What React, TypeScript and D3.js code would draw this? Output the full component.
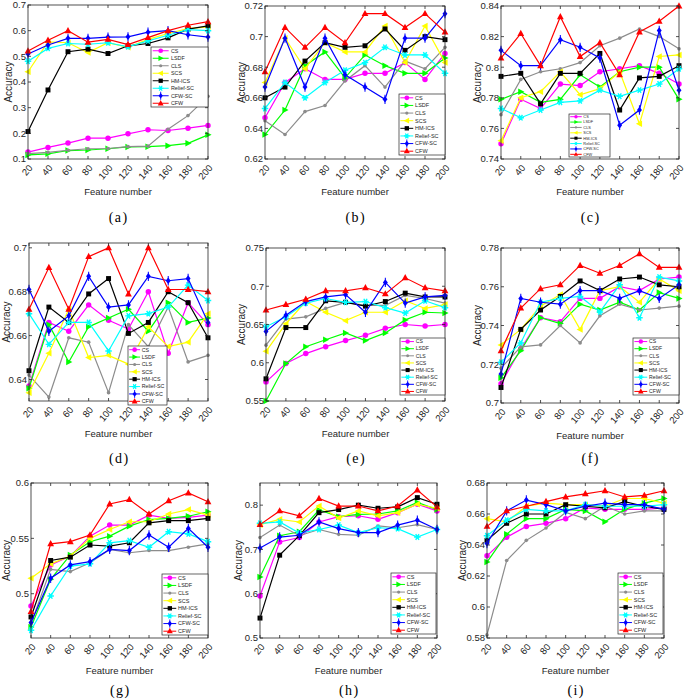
import React from 'react';
import * as d3 from 'd3';

const featureNumbers = [20, 40, 60, 80, 100, 120, 140, 160, 180, 200];
const methods = ['CS', 'LSDF', 'CLS', 'SCS', 'HM-ICS', 'Relief-SC', 'CFW-SC', 'CFW'];
const methodColors = ['#ff00ff', '#00ff00', '#8c8c8c', '#ffff00', '#000000', '#00ffff', '#0000ff', '#ff0000'];

// series order: CS, LSDF, CLS, SCS, HM-ICS, Relief-SC, CFW-SC, CFW
const dataA = [
  [0.127, 0.145, 0.162, 0.181, 0.181, 0.198, 0.214, 0.211, 0.220, 0.231],
  [0.116, 0.120, 0.133, 0.135, 0.140, 0.147, 0.148, 0.152, 0.161, 0.194],
  [0.121, 0.126, 0.134, 0.140, 0.141, 0.148, 0.150, 0.216, 0.269, 0.344],
  [0.440, 0.556, 0.553, 0.515, 0.553, 0.535, 0.566, 0.589, 0.608, 0.615],
  [0.207, 0.369, 0.518, 0.528, 0.511, 0.541, 0.550, 0.572, 0.606, 0.619],
  [0.481, 0.531, 0.550, 0.547, 0.553, 0.537, 0.560, 0.582, 0.604, 0.600],
  [0.509, 0.544, 0.570, 0.570, 0.575, 0.576, 0.594, 0.600, 0.584, 0.575],
  [0.521, 0.563, 0.600, 0.555, 0.566, 0.546, 0.573, 0.600, 0.621, 0.635],
];
const dataB = [
  [0.647, 0.670, 0.679, 0.672, 0.672, 0.676, 0.676, 0.683, 0.672, 0.689],
  [0.636, 0.652, 0.681, 0.690, 0.673, 0.688, 0.681, 0.676, 0.676, 0.686],
  [0.645, 0.636, 0.651, 0.655, 0.671, 0.681, 0.667, 0.684, 0.679, 0.693],
  [0.670, 0.699, 0.679, 0.696, 0.690, 0.690, 0.707, 0.683, 0.707, 0.683],
  [0.660, 0.667, 0.684, 0.696, 0.693, 0.694, 0.705, 0.691, 0.700, 0.698],
  [0.653, 0.670, 0.660, 0.670, 0.678, 0.683, 0.693, 0.688, 0.688, 0.676],
  [0.667, 0.699, 0.667, 0.699, 0.675, 0.667, 0.659, 0.699, 0.699, 0.715],
  [0.677, 0.706, 0.693, 0.706, 0.696, 0.715, 0.715, 0.706, 0.715, 0.703],
];
const dataC = [
  [0.750, 0.779, 0.773, 0.789, 0.788, 0.797, 0.799, 0.801, 0.796, 0.789],
  [0.779, 0.784, 0.777, 0.779, 0.795, 0.787, 0.797, 0.800, 0.800, 0.779],
  [0.769, 0.792, 0.797, 0.799, 0.803, 0.814, 0.819, 0.825, 0.820, 0.812],
  [0.752, 0.780, 0.784, 0.797, 0.782, 0.786, 0.797, 0.763, 0.807, 0.808],
  [0.794, 0.796, 0.776, 0.796, 0.796, 0.809, 0.772, 0.793, 0.794, 0.801],
  [0.773, 0.767, 0.772, 0.777, 0.778, 0.785, 0.781, 0.785, 0.789, 0.799],
  [0.811, 0.801, 0.801, 0.818, 0.813, 0.806, 0.762, 0.772, 0.824, 0.785],
  [0.806, 0.822, 0.801, 0.833, 0.807, 0.816, 0.795, 0.823, 0.830, 0.840],
];
const dataD = [
  [0.637, 0.666, 0.662, 0.674, 0.667, 0.663, 0.680, 0.652, 0.675, 0.665],
  [0.636, 0.665, 0.648, 0.664, 0.668, 0.672, 0.662, 0.675, 0.666, 0.668],
  [0.642, 0.632, 0.659, 0.657, 0.634, 0.665, 0.655, 0.673, 0.648, 0.651],
  [0.634, 0.652, 0.672, 0.650, 0.651, 0.647, 0.664, 0.655, 0.657, 0.670],
  [0.644, 0.673, 0.666, 0.679, 0.686, 0.661, 0.666, 0.680, 0.675, 0.659],
  [0.670, 0.656, 0.666, 0.666, 0.653, 0.669, 0.670, 0.673, 0.683, 0.676],
  [0.681, 0.662, 0.669, 0.687, 0.673, 0.674, 0.687, 0.685, 0.686, 0.666],
  [0.672, 0.691, 0.672, 0.696, 0.700, 0.679, 0.700, 0.681, 0.681, 0.680],
];
const dataE = [
  [0.575, 0.599, 0.612, 0.621, 0.629, 0.636, 0.645, 0.650, 0.648, 0.650],
  [0.550, 0.599, 0.621, 0.630, 0.639, 0.629, 0.639, 0.656, 0.666, 0.665],
  [0.623, 0.657, 0.660, 0.671, 0.679, 0.675, 0.675, 0.688, 0.684, 0.678],
  [0.615, 0.651, 0.680, 0.666, 0.655, 0.666, 0.666, 0.681, 0.671, 0.676],
  [0.579, 0.646, 0.646, 0.681, 0.679, 0.674, 0.680, 0.691, 0.686, 0.686],
  [0.647, 0.660, 0.678, 0.684, 0.679, 0.680, 0.672, 0.665, 0.681, 0.672],
  [0.641, 0.662, 0.680, 0.686, 0.689, 0.666, 0.705, 0.678, 0.686, 0.688],
  [0.669, 0.676, 0.683, 0.694, 0.694, 0.698, 0.690, 0.711, 0.698, 0.694],
];
const dataF = [
  [0.710, 0.728, 0.744, 0.742, 0.754, 0.754, 0.760, 0.758, 0.764, 0.765],
  [0.713, 0.727, 0.744, 0.741, 0.751, 0.748, 0.752, 0.748, 0.757, 0.754],
  [0.718, 0.729, 0.730, 0.740, 0.731, 0.745, 0.751, 0.748, 0.749, 0.750],
  [0.730, 0.738, 0.750, 0.756, 0.738, 0.758, 0.760, 0.752, 0.764, 0.758],
  [0.708, 0.738, 0.748, 0.755, 0.763, 0.758, 0.764, 0.765, 0.761, 0.760],
  [0.721, 0.731, 0.752, 0.754, 0.755, 0.747, 0.761, 0.744, 0.765, 0.763],
  [0.715, 0.754, 0.752, 0.751, 0.758, 0.758, 0.754, 0.758, 0.754, 0.761],
  [0.727, 0.749, 0.759, 0.761, 0.771, 0.767, 0.771, 0.777, 0.770, 0.770],
];
const dataG = [
  [0.489, 0.526, 0.534, 0.552, 0.562, 0.562, 0.571, 0.568, 0.569, 0.571],
  [0.470, 0.513, 0.535, 0.547, 0.552, 0.561, 0.567, 0.568, 0.570, 0.574],
  [0.473, 0.522, 0.520, 0.528, 0.540, 0.537, 0.539, 0.539, 0.542, 0.545],
  [0.514, 0.527, 0.534, 0.550, 0.558, 0.565, 0.565, 0.572, 0.576, 0.571],
  [0.479, 0.530, 0.533, 0.544, 0.543, 0.546, 0.564, 0.566, 0.566, 0.568],
  [0.467, 0.498, 0.525, 0.527, 0.546, 0.548, 0.542, 0.556, 0.554, 0.547],
  [0.474, 0.514, 0.526, 0.529, 0.540, 0.539, 0.553, 0.542, 0.559, 0.542],
  [0.484, 0.545, 0.547, 0.553, 0.581, 0.585, 0.572, 0.584, 0.591, 0.583],
];
const dataH = [
  [0.595, 0.717, 0.727, 0.762, 0.774, 0.776, 0.768, 0.783, 0.802, 0.787],
  [0.638, 0.731, 0.740, 0.789, 0.774, 0.779, 0.780, 0.787, 0.806, 0.790],
  [0.727, 0.755, 0.731, 0.745, 0.734, 0.732, 0.753, 0.749, 0.756, 0.745],
  [0.756, 0.768, 0.762, 0.798, 0.771, 0.787, 0.776, 0.783, 0.802, 0.793],
  [0.545, 0.687, 0.731, 0.783, 0.790, 0.800, 0.793, 0.796, 0.817, 0.802],
  [0.759, 0.762, 0.737, 0.745, 0.755, 0.738, 0.749, 0.747, 0.728, 0.745],
  [0.703, 0.728, 0.732, 0.762, 0.747, 0.738, 0.738, 0.755, 0.766, 0.745],
  [0.756, 0.787, 0.776, 0.815, 0.798, 0.798, 0.787, 0.798, 0.834, 0.796],
];
const dataI = [
  [0.633, 0.645, 0.652, 0.654, 0.657, 0.664, 0.663, 0.663, 0.663, 0.664],
  [0.629, 0.647, 0.657, 0.657, 0.663, 0.662, 0.655, 0.663, 0.667, 0.670],
  [0.582, 0.630, 0.643, 0.651, 0.661, 0.657, 0.665, 0.660, 0.662, 0.662],
  [0.657, 0.655, 0.665, 0.667, 0.666, 0.666, 0.665, 0.670, 0.670, 0.667],
  [0.643, 0.654, 0.660, 0.660, 0.666, 0.665, 0.664, 0.668, 0.665, 0.663],
  [0.646, 0.656, 0.663, 0.662, 0.662, 0.666, 0.665, 0.665, 0.665, 0.666],
  [0.641, 0.662, 0.669, 0.666, 0.662, 0.665, 0.667, 0.666, 0.666, 0.663],
  [0.652, 0.662, 0.665, 0.668, 0.671, 0.673, 0.675, 0.671, 0.672, 0.675],
];

const yTicksA = [0.1, 0.2, 0.3, 0.4, 0.5, 0.6, 0.7];
const yTicksB = [0.62, 0.64, 0.66, 0.68, 0.7, 0.72];
const yTicksC = [0.74, 0.76, 0.78, 0.8, 0.82, 0.84];
const yTicksD = [0.64, 0.66, 0.68, 0.7];
const yTicksE = [0.55, 0.6, 0.65, 0.7, 0.75];
const yTicksF = [0.7, 0.72, 0.74, 0.76, 0.78];
const yTicksG = [0.5, 0.55, 0.6];
const yTicksH = [0.5, 0.6, 0.7, 0.8];
const yTicksI = [0.58, 0.6, 0.62, 0.64, 0.66, 0.68];

const captions = ['(a)', '(b)', '(c)', '(d)', '(e)', '(f)', '(g)', '(h)', '(i)'];

const panels = [
  { data: dataA, yDomain: [0.1, 0.7], yTicks: yTicksA, box: [28, 208, 5, 159], legend: [151, 47, 57, 60], ylOff: 20, capOff: 58 },
  { data: dataB, yDomain: [0.62, 0.72], yTicks: yTicksB, box: [265, 445, 6, 159], legend: [399, 94, 46, 61], ylOff: 24, capOff: 58 },
  { data: dataC, yDomain: [0.74, 0.84], yTicks: yTicksC, box: [501, 679, 6, 159], legend: [569, 114, 41, 43], ylOff: 24, capOff: 58 },
  { data: dataD, yDomain: [0.6302, 0.7022], yTicks: yTicksD, box: [29, 208, 243, 401], legend: [128, 346, 39, 59], ylOff: 23, capOff: 57 },
  { data: dataE, yDomain: [0.55, 0.75], yTicks: yTicksE, box: [266, 445, 248, 401], legend: [400, 338, 45, 57], ylOff: 25, capOff: 57 },
  { data: dataF, yDomain: [0.7, 0.78], yTicks: yTicksF, box: [501, 679, 248, 403], legend: [633, 338, 46, 57], ylOff: 24, capOff: 55 },
  { data: dataG, yDomain: [0.46, 0.6], yTicks: yTicksG, box: [31, 208, 483, 638], legend: [162, 574, 46, 61], ylOff: 25, capOff: 52 },
  { data: dataH, yDomain: [0.5, 0.85], yTicks: yTicksH, box: [260, 437, 483, 638], legend: [391, 573, 45, 61], ylOff: 22, capOff: 52 },
  { data: dataI, yDomain: [0.58, 0.68], yTicks: yTicksI, box: [487, 664, 483, 638], legend: [618, 573, 45, 61], ylOff: 25, capOff: 52 },
];

const AX = '#262626';
const SANS = '"Liberation Sans", Arial, Helvetica, sans-serif';

function Marker({ kind, x, y, s, color }: { kind: number; x: number; y: number; s: number; color: string }) {
  switch (kind) {
    case 0:
      return <circle cx={x} cy={y} r={s * 0.42} fill={color} />;
    case 1:
      return <path d={`M${x + s * 0.55},${y}L${x - s * 0.4},${y - s * 0.5}L${x - s * 0.4},${y + s * 0.5}Z`} fill={color} />;
    case 2:
      return <circle cx={x} cy={y} r={s * 0.28} fill={color} />;
    case 3:
      return <path d={`M${x - s * 0.55},${y}L${x + s * 0.4},${y - s * 0.5}L${x + s * 0.4},${y + s * 0.5}Z`} fill={color} />;
    case 4:
      return <rect x={x - s * 0.38} y={y - s * 0.38} width={s * 0.76} height={s * 0.76} fill={color} />;
    case 5: {
      const r = s * 0.5;
      const segs = [0, 60, 120].map((a) => {
        const rad = (a * Math.PI) / 180;
        return `M${x - r * Math.cos(rad)},${y - r * Math.sin(rad)}L${x + r * Math.cos(rad)},${y + r * Math.sin(rad)}`;
      });
      return (
        <g>
          <path d={segs.join('')} stroke={color} strokeWidth={s * 0.22} />
          <circle cx={x} cy={y} r={s * 0.25} fill={color} />
        </g>
      );
    }
    case 6:
      return (
        <g>
          <path d={`M${x},${y - s * 0.5}L${x + s * 0.38},${y}L${x},${y + s * 0.5}L${x - s * 0.38},${y}Z`} fill={color} />
          <path d={`M${x},${y - s * 0.72}L${x},${y + s * 0.72}`} stroke={color} strokeWidth={s * 0.16} />
        </g>
      );
    default:
      return <path d={`M${x},${y - s * 0.58}L${x + s * 0.52},${y + s * 0.38}L${x - s * 0.52},${y + s * 0.38}Z`} fill={color} />;
  }
}

function fmt(v: number) {
  return String(+v.toFixed(3));
}

function Panel({ p, caption }: { p: any; caption: string }) {
  const [L, R, T, B] = p.box;
  const x = d3.scaleLinear().domain([20, 200]).range([L, R]);
  const y = d3.scaleLinear().domain(p.yDomain).range([B, T]);
  const line = d3
    .line<number>()
    .x((_, i) => x(featureNumbers[i]))
    .y((d) => y(d));
  const [lx, ly, lw, lh] = p.legend;
  const rh = lh / 8;
  const cx = (L + R) / 2;
  return (
    <g>
      {p.data.map((series: number[], si: number) => (
        <g key={si}>
          <path d={line(series) || ''} fill="none" stroke={methodColors[si]} strokeWidth={1.2} />
          {series.map((v, i) => (
            <Marker key={i} kind={si} x={x(featureNumbers[i])} y={y(v)} s={6.5} color={methodColors[si]} />
          ))}
        </g>
      ))}
      <rect x={L} y={T} width={R - L} height={B - T} fill="none" stroke={AX} strokeWidth={0.8} />
      {p.yTicks.map((t: number) => (
        <g key={'y' + t}>
          <line x1={L} x2={L + 3} y1={y(t)} y2={y(t)} stroke={AX} strokeWidth={0.8} />
          <line x1={R} x2={R - 3} y1={y(t)} y2={y(t)} stroke={AX} strokeWidth={0.8} />
          <text x={L - 2} y={y(t)} dy="0.35em" textAnchor="end" fontSize={9.5} fontFamily={SANS} fill={AX}>
            {fmt(t)}
          </text>
        </g>
      ))}
      {featureNumbers.map((f) => (
        <g key={'x' + f}>
          <line x1={x(f)} x2={x(f)} y1={B} y2={B - 3} stroke={AX} strokeWidth={0.8} />
          <line x1={x(f)} x2={x(f)} y1={T} y2={T + 3} stroke={AX} strokeWidth={0.8} />
          <text
            transform={`translate(${x(f) + 2.5},${B + 7}) rotate(-50)`}
            dy="0.35em"
            textAnchor="end"
            fontSize={9.5}
            fontFamily={SANS}
            fill={AX}
          >
            {f}
          </text>
        </g>
      ))}
      <text x={cx} y={B + 33} dy="0.35em" textAnchor="middle" fontSize={9.5} fontFamily={SANS} fill={AX}>
        Feature number
      </text>
      <text
        transform={`translate(${L - p.ylOff},${(T + B) / 2}) rotate(-90)`}
        dy="0.35em"
        textAnchor="middle"
        fontSize={10}
        fontFamily={SANS}
        fill={AX}
      >
        Accuracy
      </text>
      <text x={cx + 0.7} y={B + p.capOff} dy="0.35em" textAnchor="middle" fontSize={14} letterSpacing={1.4} fontFamily='"Liberation Serif", "DejaVu Serif", serif' fill="#000">
        {caption}
      </text>
      <g>
        <rect x={lx} y={ly} width={lw} height={lh} fill="#fff" stroke={AX} strokeWidth={0.7} />
        {methods.map((m, i) => {
          const yy = ly + rh * (i + 0.5);
          return (
            <g key={m}>
              <line x1={lx + lw * 0.03} x2={lx + lw * 0.31} y1={yy} y2={yy} stroke={methodColors[i]} strokeWidth={1} />
              <Marker kind={i} x={lx + lw * 0.17} y={yy} s={rh * 0.75} color={methodColors[i]} />
              <text x={lx + lw * 0.35} y={yy} dy="0.35em" fontSize={rh * 0.72} fontFamily={SANS} fill={AX}>
                {m}
              </text>
            </g>
          );
        })}
      </g>
    </g>
  );
}

export default function App() {
  return (
    <svg width={685} height={699} style={{ position: 'absolute', left: 0, top: 0, background: '#fff' }}>
      <rect x={0} y={0} width={685} height={699} fill="#fff" />
      {panels.map((p, i) => (
        <Panel key={i} p={p} caption={captions[i]} />
      ))}
    </svg>
  );
}
